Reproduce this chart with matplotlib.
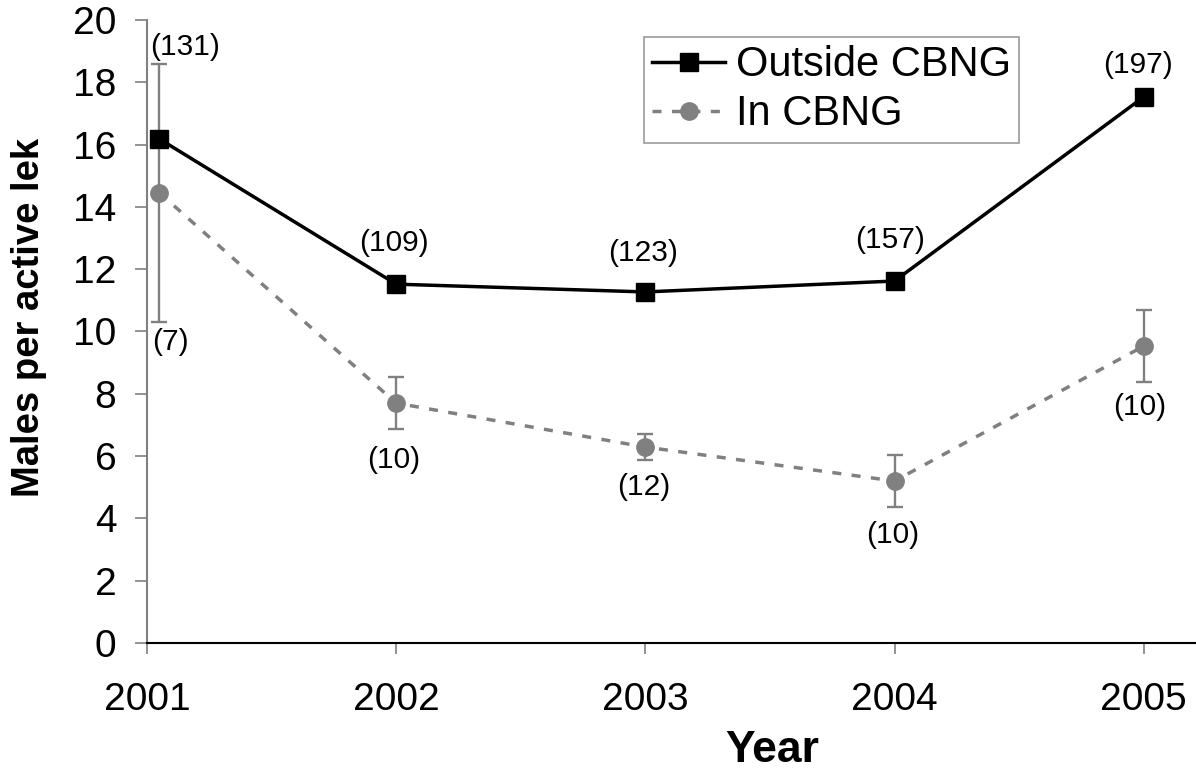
import numpy as np
import matplotlib
matplotlib.use('Agg')
import matplotlib.pyplot as plt

plt.rcParams['font.family'] = ['Liberation Sans', 'DejaVu Sans']

# ─── DATA ────────────────────────────────────────────────────────────────────
years = [2001.05, 2002, 2003, 2004, 2005]
outside = [16.18, 11.52, 11.27, 11.62, 17.53]
in_cbng = [14.45, 7.70, 6.29, 5.20, 9.53]
in_err = [4.15, 0.83, 0.42, 0.82, 1.15]
n_outside = ['(131)', '(109)', '(123)', '(157)', '(197)']
n_in = ['(7)', '(10)', '(12)', '(10)', '(10)']
xticks = [2001, 2002, 2003, 2004, 2005]

# label offsets in pixels (layout only)
off_outside = [(26, 92), (-2, 41), (-2, 39), (-4, 41), (-6, 32)]
off_in = [(11, -149), (-2, -57), (-2, -40), (-2, -54), (-4, -61)]

GREY = '#808080'

fig = plt.figure(figsize=(11.96, 7.76), dpi=100)
ax = fig.add_axes([147 / 1196, 133 / 776, 1 - 147 / 1196, (643 - 20) / 776])

ax.errorbar(years, in_cbng, yerr=in_err, fmt='none', ecolor=GREY,
            elinewidth=1.7, capsize=6, capthick=1.7, zorder=2)
ax.plot(years, in_cbng, color=GREY, lw=2.5, dashes=(2.6, 3.0),
        marker='o', ms=12.5, mfc=GREY, mec=GREY, label='In CBNG', zorder=3)
ax.plot(years, outside, color='black', lw=2.5, marker='s', ms=12.5,
        mfc='black', mec='black', label='Outside CBNG', zorder=4)

for x, y, s, (dx, dy) in zip(years, outside, n_outside, off_outside):
    ax.annotate(s, (x, y), xytext=(dx, dy), textcoords='offset pixels',
                ha='center', va='center', fontsize=21.5)
for x, y, s, (dx, dy) in zip(years, in_cbng, n_in, off_in):
    ax.annotate(s, (x, y), xytext=(dx, dy), textcoords='offset pixels',
                ha='center', va='center', fontsize=21.5)

ax.set_xlim(2001, 2005.21)
ax.set_ylim(0, 20)
ax.set_xticks(xticks)
ax.set_yticks(np.arange(0, 21, 2))

for side in ['top', 'right']:
    ax.spines[side].set_visible(False)
ax.spines['left'].set_color(GREY)
ax.spines['left'].set_linewidth(1.5)
ax.spines['bottom'].set_color('black')
ax.spines['bottom'].set_linewidth(1.5)
ax.tick_params(axis='y', direction='out', length=9, width=1.2, color=GREY,
               labelsize=28, pad=13)
ax.tick_params(axis='x', direction='out', length=8, width=1.2, color=GREY,
               labelsize=28, pad=20)

fig.text(29 / 1196, 1 - 317 / 776, 'Males per active lek', fontsize=27.5,
         fontweight='bold', rotation=90, ha='center', va='center')
fig.text(772 / 1196, 1 - 750 / 776, 'Year', fontsize=32, fontweight='bold',
         ha='center', va='center')

handles, labels = ax.get_legend_handles_labels()
leg = fig.legend(handles[::-1], labels[::-1], loc='upper left',
                 bbox_to_anchor=(644 / 1196, 1 - 37 / 776), fontsize=30,
                 frameon=True, fancybox=False, edgecolor=GREY,
                 handlelength=1.75, handletextpad=0.25, labelspacing=0.22,
                 borderpad=0.2, borderaxespad=0)
leg.get_frame().set_linewidth(1.2)

fig.savefig('out.png', dpi=100)
